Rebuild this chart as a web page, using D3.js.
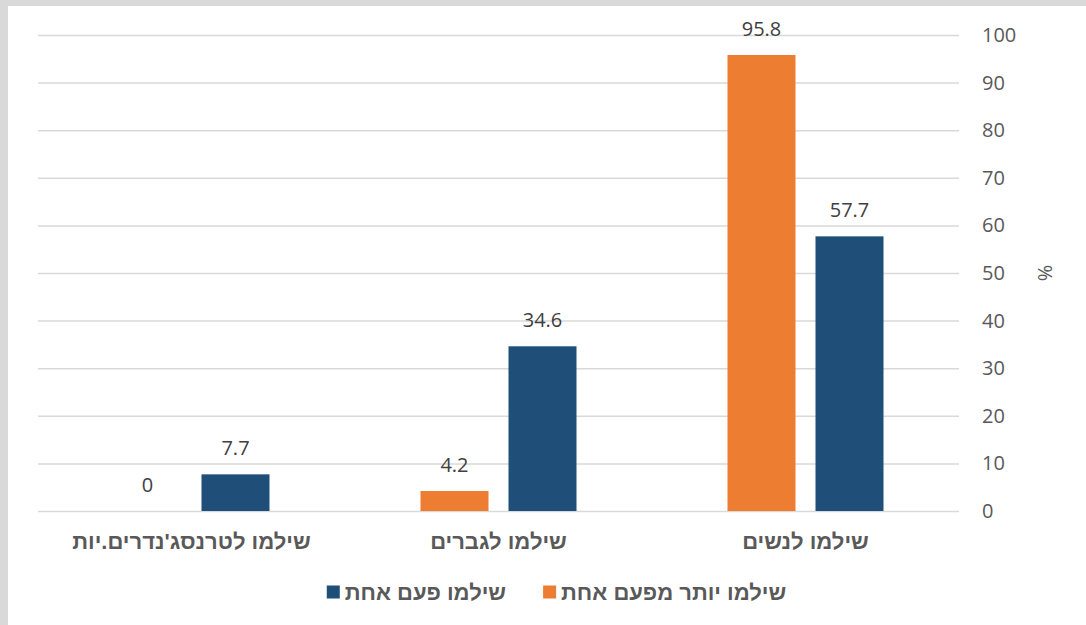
<!DOCTYPE html>
<html>
<head>
<meta charset="utf-8">
<script src="https://cdn.jsdelivr.net/npm/d3@7"></script>
<style>
    html, body { margin: 0; padding: 0; background: #d9d9d9; }
    #chart { position: absolute; left: 8px; top: 6px; }
    text { font-family: "Open Sans", "Liberation Sans", "DejaVu Sans", sans-serif; }
    .heb { font-family: "Liberation Sans", "Open Sans", "DejaVu Sans", sans-serif; }
</style>
</head>
<body>
<div id="chart"></div>
<script>
// Data
var categories = ["שילמו לנשים", "שילמו לגברים", "שילמו לטרנסג'נדרים.יות"];
var seriesNames = ["שילמו יותר מפעם אחת", "שילמו פעם אחת"];
var moreThanOnce = [95.8, 4.2, 0];
var once = [57.7, 34.6, 7.7];
var yTicks = [0, 10, 20, 30, 40, 50, 60, 70, 80, 90, 100];

var colors = { "שילמו יותר מפעם אחת": "#ed7d31", "שילמו פעם אחת": "#1f4e79" };
var seriesValues = [moreThanOnce, once];

// Size of the white panel (window minus gray border)
var width = 1086 - 8;
var height = 625 - 6;

// Plot area, in panel coords
var plot = { left: 30, right: 951, top: 29, bottom: 505 };

var svg = d3.select("#chart").append("svg")
    .attr("width", width)
    .attr("height", height);

svg.append("rect")
    .attr("width", width)
    .attr("height", height)
    .attr("fill", "#ffffff");

// Scales (RTL: first category on the right)
var x0 = d3.scaleBand()
    .domain(categories)
    .range([plot.right, plot.left]);

var x1 = d3.scaleBand()
    .domain(seriesNames)
    .range([0, 156])
    .paddingInner(0.2273);

var groupOffset = (x0.bandwidth() - 156) / 2;

var y = d3.scaleLinear()
    .domain([0, 100])
    .range([plot.bottom, plot.top]);

// Gridlines
svg.append("g")
    .selectAll("line")
    .data(yTicks)
    .enter()
    .append("line")
    .attr("x1", plot.left)
    .attr("x2", plot.right)
    .attr("y1", function(d) { return y(d) + 0.5; })
    .attr("y2", function(d) { return y(d) + 0.5; })
    .attr("stroke", "#d9d9d9")
    .attr("stroke-width", 1.5);

// Y axis on the right
var yAxis = svg.append("g")
    .attr("transform", "translate(" + (plot.right + 23) + ",0)")
    .call(d3.axisRight(y).tickValues(yTicks).tickSize(0).tickPadding(0));
yAxis.select(".domain").remove();
yAxis.selectAll("text")
    .attr("fill", "#595959")
    .style("font-size", "20px")
    .style("font-family", "'Open Sans', 'Liberation Sans', sans-serif");

// % label
svg.append("text")
    .attr("transform", "translate(1037," + ((plot.top + plot.bottom) / 2) + ") rotate(90)")
    .attr("text-anchor", "middle")
    .attr("dominant-baseline", "central")
    .attr("fill", "#595959")
    .style("font-size", "20px")
    .text("%");

// Bars
var groups = svg.append("g")
    .selectAll("g")
    .data(categories)
    .enter()
    .append("g")
    .attr("transform", function(d) { return "translate(" + (x0(d) + groupOffset) + ",0)"; });

groups.selectAll("rect")
    .data(function(d, i) {
        return seriesNames.map(function(s, j) { return { series: s, value: seriesValues[j][i] }; });
    })
    .enter()
    .append("rect")
    .attr("x", function(d) { return x1(d.series); })
    .attr("y", function(d) { return y(d.value); })
    .attr("width", x1.bandwidth())
    .attr("height", function(d) { return plot.bottom - y(d.value); })
    .attr("fill", function(d) { return colors[d.series]; });

// Value labels
groups.selectAll("text")
    .data(function(d, i) {
        return seriesNames.map(function(s, j) { return { series: s, value: seriesValues[j][i] }; });
    })
    .enter()
    .append("text")
    .attr("x", function(d) { return x1(d.series) + x1.bandwidth() / 2; })
    .attr("y", function(d) { return y(d.value) - 19; })
    .attr("text-anchor", "middle")
    .attr("fill", "#404040")
    .style("font-size", "20px")
    .text(function(d) { return d.value; });

// Category labels
svg.append("g")
    .selectAll("text")
    .data(categories)
    .enter()
    .append("text")
    .attr("class", "heb")
    .attr("x", function(d) { return x0(d) + x0.bandwidth() / 2; })
    .attr("y", 535)
    .attr("text-anchor", "middle")
    .attr("dominant-baseline", "central")
    .attr("direction", "rtl")
    .attr("fill", "#595959")
    .style("font-size", "22px")
    .style("font-weight", "700")
    .text(function(d) { return d; });

// Legend (RTL: first item on the right, swatch left of text)
var legend = svg.append("g");
var legendItems = legend.selectAll("g")
    .data(seriesNames)
    .enter()
    .append("g");
legendItems.append("text")
    .attr("class", "heb")
    .attr("dominant-baseline", "central")
    .attr("fill", "#595959")
    .style("font-size", "22px")
    .style("font-weight", "700")
    .text(function(d) { return d; });
legendItems.append("rect")
    .attr("width", 13)
    .attr("height", 13)
    .attr("y", -6.5)
    .attr("fill", function(d) { return colors[d]; });

var swatchGap = 5, itemGap = 37;
var widths = [];
legendItems.each(function() {
    widths.push(d3.select(this).select("text").node().getComputedTextLength());
});
var total = d3.sum(widths) + seriesNames.length * (13 + swatchGap) + itemGap * (seriesNames.length - 1);
var cursor = 548.5 + total / 2;
legendItems.each(function(d, i) {
    var g = d3.select(this);
    g.select("text").attr("text-anchor", "end").attr("x", cursor);
    g.select("rect").attr("x", cursor - widths[i] - swatchGap - 13);
    cursor -= widths[i] + swatchGap + 13 + itemGap;
});
legend.attr("transform", "translate(0,586)");
</script>
</body>
</html>
